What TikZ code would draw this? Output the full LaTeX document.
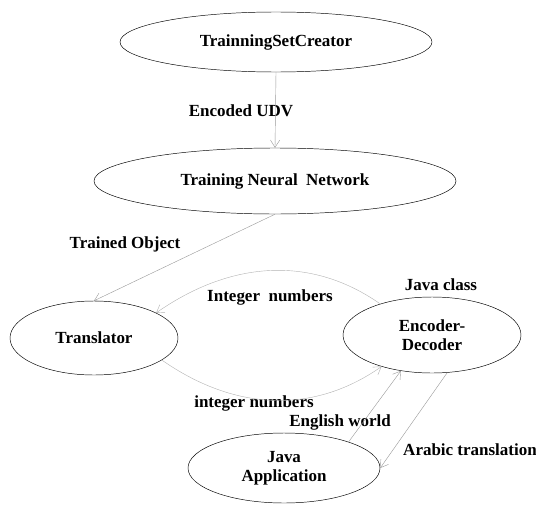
\documentclass[tikz,border=0pt]{standalone}
\usepackage{fontspec}
\setmainfont{Liberation Serif}
\usetikzlibrary{arrows.meta,shapes.geometric}

\begin{document}
\begin{tikzpicture}[x=0.03cm,y=-0.03cm,font=\fontsize{14.5}{16}\selectfont\bfseries]
	\tikzstyle{unit}=[ellipse,draw,thin,inner sep=0pt,align=center]
	\tikzstyle{lbl}=[inner sep=1pt]
	\tikzstyle{flow}=[draw=gray!80,line width=0.35pt,-{Straight Barb[length=2.2mm,width=2.8mm]}]
	\tikzstyle{loop}=[draw=gray!60,line width=0.35pt,-{Straight Barb[length=2.2mm,width=2.8mm]}]
	\useasboundingbox (0,0) rectangle (536,504);
	\node (tsc)   at (276,42)  [unit,minimum width=312*0.03cm,minimum height=60*0.03cm] {TrainningSetCreator};
	\node (tnn)   at (275,181) [unit,minimum width=362*0.03cm,minimum height=66*0.03cm] {Training Neural~~Network};
	\node (trans) at (94,338)  [unit,minimum width=168*0.03cm,minimum height=74*0.03cm] {Translator};
	\node (coder) at (432,335) [unit,minimum width=178*0.03cm,minimum height=76*0.03cm] {Encoder-\\Decoder};
	\node (java)  at (284,468) [unit,minimum width=192*0.03cm,minimum height=70*0.03cm] {Java\\Application};
	\node (udv)    at (241,111) [lbl] {Encoded UDV};
	\node (trobj)  at (125,244) [lbl] {Trained Object};
	\node (intup)  at (270,297) [lbl] {Integer~~numbers};
	\node (jclass) at (441,285) [lbl] {Java class};
	\node (intdn)  at (254,403) [lbl] {integer numbers};
	\node (eng)    at (340,422) [lbl] {English world};
	\node (arab)   at (470,450) [lbl] {Arabic translation};
	\draw [flow] (tsc.south) -- (tnn.north);
	\draw [flow] (tnn.south) -- (trans.north);
	\draw [loop] (coder.149) to [out=145,in=35] (trans.22);
	\draw [loop] (trans.-18) to [out=-35,in=-145] (coder.212);
	\draw [flow] (java.22) -- (coder.229);
	\draw [flow] (coder.292) -- (java.east);
\end{tikzpicture}
\end{document}
